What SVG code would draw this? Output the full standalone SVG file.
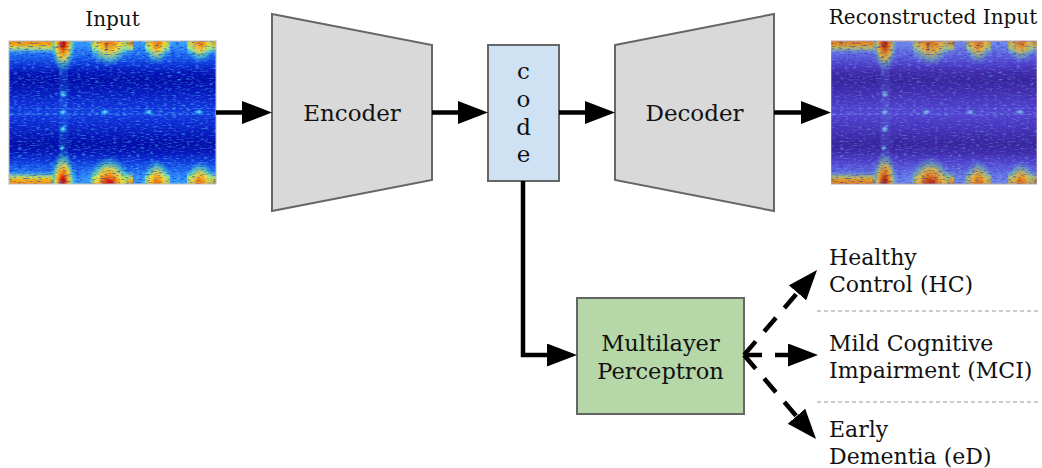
<svg xmlns="http://www.w3.org/2000/svg" xmlns:xlink="http://www.w3.org/1999/xlink" width="1042" height="468" viewBox="0 0 1042 468">
  <style>
    .t { font-family: 'DejaVu Serif', serif; fill: #111; }
    .title { font-size: 20px; text-anchor: middle; }
    .big { font-size: 23px; text-anchor: middle; }
    .mid { font-size: 22.5px; text-anchor: middle; }
    .lab { font-size: 22px; }
    .shape { stroke: #666; stroke-width: 2; }
    .trap { fill: #d9d9d9; }
    .codebox { fill: #cfe2f3; }
    .mlpbox { fill: #b6d7a8; }
    .wire { fill: none; stroke: #000; stroke-width: 4.5; }
    .solid { marker-end: url(#head); }
    .dash { stroke-dasharray: 18 13; marker-end: url(#head); }
    .sep { stroke: #9a9a9a; stroke-width: 1.2; stroke-dasharray: 4 3; fill: none; }
  </style>
  <defs>
    <marker id="head" markerUnits="userSpaceOnUse" markerWidth="32" markerHeight="24" refX="20" refY="11.5" orient="auto">
      <path d="M0,0 L30,11.5 L0,23 Z" fill="#000" stroke="none"/>
    </marker>

    <!-- spectrogram colour layers -->
    <clipPath id="specClip"><rect width="207" height="143"/></clipPath>
    <linearGradient id="specBase" x1="0" y1="0" x2="0" y2="1">
      <stop offset="0" stop-color="#3aa0ff"/>
      <stop offset="0.06" stop-color="#2a80f8"/>
      <stop offset="0.12" stop-color="#1a58ec"/>
      <stop offset="0.17" stop-color="#0e30d8"/>
      <stop offset="0.22" stop-color="#0614b8"/>
      <stop offset="0.28" stop-color="#040ca8"/>
      <stop offset="0.35" stop-color="#0818bc"/>
      <stop offset="0.43" stop-color="#102cd6"/>
      <stop offset="0.50" stop-color="#163ce4"/>
      <stop offset="0.57" stop-color="#102cd6"/>
      <stop offset="0.65" stop-color="#0818bc"/>
      <stop offset="0.72" stop-color="#040ca8"/>
      <stop offset="0.78" stop-color="#0614b8"/>
      <stop offset="0.83" stop-color="#0e30d8"/>
      <stop offset="0.88" stop-color="#1a58ec"/>
      <stop offset="0.94" stop-color="#2a80f8"/>
      <stop offset="1" stop-color="#3aa0ff"/>
    </linearGradient>
    <linearGradient id="bandTop" x1="0" y1="0" x2="0" y2="1">
      <stop offset="0" stop-color="#ff8000"/>
      <stop offset="0.3" stop-color="#ffb000"/>
      <stop offset="0.55" stop-color="#e8f040" stop-opacity="0.8"/>
      <stop offset="1" stop-color="#40d0ff" stop-opacity="0"/>
    </linearGradient>
    <linearGradient id="bandBot" x1="0" y1="1" x2="0" y2="0">
      <stop offset="0" stop-color="#ff8000"/>
      <stop offset="0.3" stop-color="#ffb000"/>
      <stop offset="0.55" stop-color="#e8f040" stop-opacity="0.8"/>
      <stop offset="1" stop-color="#40d0ff" stop-opacity="0"/>
    </linearGradient>
    <radialGradient id="blobHot">
      <stop offset="0" stop-color="#a80000"/>
      <stop offset="0.18" stop-color="#e01800"/>
      <stop offset="0.36" stop-color="#ff8a00"/>
      <stop offset="0.56" stop-color="#ffe030" stop-opacity="0.9"/>
      <stop offset="0.78" stop-color="#70ffa0" stop-opacity="0.45"/>
      <stop offset="1" stop-color="#30c0ff" stop-opacity="0"/>
    </radialGradient>
    <radialGradient id="blobWarm">
      <stop offset="0" stop-color="#ff4a00"/>
      <stop offset="0.25" stop-color="#ff9000"/>
      <stop offset="0.5" stop-color="#ffd830" stop-opacity="0.9"/>
      <stop offset="0.78" stop-color="#70ffb0" stop-opacity="0.45"/>
      <stop offset="1" stop-color="#30c0ff" stop-opacity="0"/>
    </radialGradient>
    <radialGradient id="speck">
      <stop offset="0" stop-color="#90ffe0"/>
      <stop offset="0.5" stop-color="#40e0ff" stop-opacity="0.6"/>
      <stop offset="1" stop-color="#40e0ff" stop-opacity="0"/>
    </radialGradient>
    <pattern id="ridge" width="7" height="7" patternUnits="userSpaceOnUse">
      <ellipse cx="3.5" cy="3.5" rx="2.4" ry="1.5" fill="#50d8ff"/>
    </pattern>
    <!-- speckle texture: bright cyan flecks and dark blue flecks -->
    <filter id="grainLight" x="0" y="0" width="1" height="1">
      <feTurbulence type="fractalNoise" baseFrequency="0.22 0.7" numOctaves="2" seed="4" result="n"/>
      <feColorMatrix in="n" type="matrix" values="0 0 0 0 0.1  0 0 0 0 0.62  0 0 0 0 1  2.6 0 0 0 -1.32"/>
    </filter>
    <filter id="grainDark" x="0" y="0" width="1" height="1">
      <feTurbulence type="fractalNoise" baseFrequency="0.24 0.75" numOctaves="2" seed="11" result="n"/>
      <feColorMatrix in="n" type="matrix" values="0 0 0 0 0  0 0 0 0 0.02  0 0 0 0 0.5  0 -2.6 0 0 1.25"/>
    </filter>
    <!-- reconstruction: slightly smoothed and shifted toward violet -->
    <filter id="soft" x="0" y="0" width="1" height="1">
      <feGaussianBlur stdDeviation="0.55"/>
      <feColorMatrix type="matrix" values="0.8 0.08 0.1 0 0  0.05 0.62 0.04 0 0  0 0.04 0.84 0 0  0 0 0 1 0"/>
    </filter>

    <g id="spec">
      <g clip-path="url(#specClip)">
        <rect width="207" height="143" fill="url(#specBase)"/>
        <!-- loud bands at top and bottom -->
        <rect x="0" y="0" width="44" height="13" fill="url(#bandTop)"/>
        <rect x="83" y="0" width="41" height="13" fill="url(#bandTop)"/>
        <rect x="136" y="0" width="25" height="13" fill="url(#bandTop)"/>
        <rect x="178" y="0" width="29" height="13" fill="url(#bandTop)"/>
        <rect x="0" y="130" width="44" height="13" fill="url(#bandBot)"/>
        <rect x="83" y="130" width="41" height="13" fill="url(#bandBot)"/>
        <rect x="136" y="130" width="25" height="13" fill="url(#bandBot)"/>
        <rect x="178" y="130" width="29" height="13" fill="url(#bandBot)"/>
        <!-- burst columns -->
        <ellipse cx="54" cy="0" rx="13" ry="32" fill="url(#blobHot)"/>
        <ellipse cx="100" cy="-2" rx="23" ry="28" fill="url(#blobWarm)"/>
        <ellipse cx="148" cy="-2" rx="15" ry="26" fill="url(#blobWarm)"/>
        <ellipse cx="191" cy="-2" rx="16" ry="24" fill="url(#blobWarm)"/>
        <ellipse cx="54" cy="143" rx="13" ry="34" fill="url(#blobHot)"/>
        <ellipse cx="100" cy="145" rx="23" ry="30" fill="url(#blobHot)"/>
        <ellipse cx="148" cy="145" rx="15" ry="27" fill="url(#blobWarm)"/>
        <ellipse cx="191" cy="145" rx="16" ry="25" fill="url(#blobWarm)"/>
        <!-- faint streak down the first burst -->
        <rect x="50" y="20" width="9" height="105" fill="#40c8ff" opacity="0.16"/>
        <ellipse cx="54" cy="53" rx="4" ry="4" fill="url(#speck)"/>
        <ellipse cx="54" cy="71" rx="4" ry="3" fill="url(#speck)"/>
        <ellipse cx="54" cy="88" rx="4" ry="4" fill="url(#speck)"/>
        <ellipse cx="53" cy="107" rx="3.5" ry="3" fill="url(#speck)"/>
        <ellipse cx="96" cy="71" rx="5" ry="3" fill="url(#speck)"/>
        <ellipse cx="140" cy="71" rx="5" ry="3" fill="url(#speck)"/>
        <ellipse cx="190" cy="71" rx="5" ry="3" fill="url(#speck)"/>
        <!-- harmonic ridge along the centre -->
        <rect x="0" y="67" width="207" height="7" fill="url(#ridge)" opacity="0.35"/>
        <!-- speckle -->
        <rect width="207" height="143" filter="url(#grainDark)" opacity="0.8"/>
        <rect width="207" height="143" filter="url(#grainLight)" opacity="0.6"/>
      </g>
      <rect x="0" y="0" width="207" height="143" fill="none" stroke="#bbbbbb" stroke-width="1"/>
    </g>
  </defs>

  <!-- input spectrogram -->
  <g id="input">
    <text class="t title" x="112.5" y="26">Input</text>
    <use xlink:href="#spec" transform="translate(9,41)"/>
  </g>

  <!-- encoder -->
  <g id="encoder">
    <polygon class="shape trap" points="272,14 432,45 432,180 272,211"/>
    <text class="t big" x="352" y="121">Encoder</text>
  </g>

  <!-- latent code -->
  <g id="code">
    <rect class="shape codebox" x="488" y="45" width="71" height="136"/>
    <text class="t big" x="523.5" y="79">c</text>
    <text class="t big" x="523.5" y="107">o</text>
    <text class="t big" x="523.5" y="135">d</text>
    <text class="t big" x="523.5" y="162">e</text>
  </g>

  <!-- decoder -->
  <g id="decoder">
    <polygon class="shape trap" points="615,45 774,14 774,211 615,180"/>
    <text class="t big" x="694.5" y="121">Decoder</text>
  </g>

  <!-- reconstructed spectrogram -->
  <g id="reconstruction">
    <text class="t title" x="933" y="24">Reconstructed Input</text>
    <use xlink:href="#spec" transform="translate(831,41) scale(0.995,1)" filter="url(#soft)"/>
  </g>

  <!-- classifier -->
  <g id="mlp">
    <rect class="shape mlpbox" x="577" y="298" width="167" height="116"/>
    <text class="t mid" x="660.5" y="351">Multilayer</text>
    <text class="t mid" x="660.5" y="379">Perceptron</text>
  </g>

  <!-- class labels -->
  <g id="hc">
    <text class="t lab" x="829" y="265">Healthy</text>
    <text class="t lab" x="829" y="291.5">Control (HC)</text>
  </g>
  <g id="mci">
    <text class="t lab" x="829" y="351">Mild Cognitive</text>
    <text class="t lab" x="829" y="377.5">Impairment (MCI)</text>
  </g>
  <g id="ed">
    <text class="t lab" x="829" y="437">Early</text>
    <text class="t lab" x="829" y="463.5">Dementia (eD)</text>
  </g>
  <g id="separators">
    <line class="sep" x1="817" y1="311" x2="1040" y2="311"/>
    <line class="sep" x1="817" y1="402" x2="1040" y2="402"/>
  </g>

  <!-- connectors -->
  <g id="connectors">
    <path class="wire solid" d="M216,112.5 H262"/>
    <path class="wire solid" d="M432,112.5 H478"/>
    <path class="wire solid" d="M559,112.5 H605"/>
    <path class="wire solid" d="M774,112.5 H821"/>
    <path class="wire solid" d="M523,181 V355 H567"/>
    <path class="wire dash" d="M744,355 L810.5,277.6"/>
    <path class="wire dash" d="M744,355 H808"/>
    <path class="wire dash" d="M744,355 L809.5,431.4"/>
  </g>
</svg>
